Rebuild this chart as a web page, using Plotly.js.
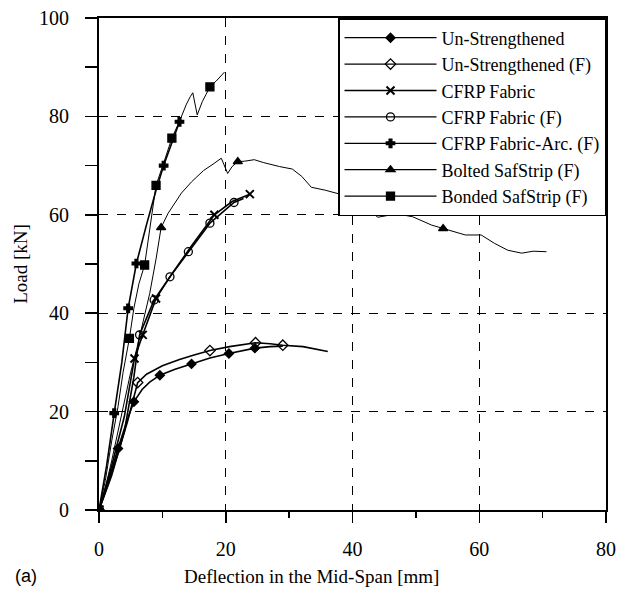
<!DOCTYPE html>
<html><head><meta charset="utf-8">
<script src="https://cdn.plot.ly/plotly-3.0.1.min.js"></script>
<style>body{margin:0;background:#fff}#chart{width:617px;height:594px}</style>
</head><body><div id="chart"></div>
<script>
// Series names (legend order)
const names = ["Un-Strengthened", "Un-Strengthened (F)", "CFRP Fabric", "CFRP Fabric (F)",
  "CFRP Fabric-Arc. (F)", "Bolted SafStrip (F)", "Bonded SafStrip (F)"];

// Un-Strengthened
const unX = [0,1.5,3,4.5,5.5,6.8,8,9.6,12,14.6,17.5,20.5,22.5,24.6,27,29];
const unY = [0,6,12.5,18.5,22,24.5,26,27.4,28.6,29.7,30.9,31.8,32.3,32.9,33.2,33.3];
const unMX = [0,3,5.5,9.6,14.6,20.5,24.6];
const unMY = [0,12.5,22,27.4,29.7,31.8,32.9];

// Un-Strengthened (F)
const unfX = [0,1.5,3,4.5,6.1,7.5,10,12.7,15,17.5,20.6,22.5,24.7,27,29,32.2,35.4,36.1];
const unfY = [0,5.5,11.5,18,25.9,27.6,29.3,30.6,31.5,32.4,33.2,33.6,34,33.8,33.5,33.2,32.5,32.2];
const unfMX = [0,6.1,17.5,24.7,29];
const unfMY = [0,25.9,32.4,34,33.5];

// CFRP Fabric
const cfX = [0,2,4,5.6,6.9,9,11.5,14.5,18.2,21,23.8];
const cfY = [0,9,19,30.8,35.6,43,48,53.5,60,62.7,64.2];
const cfMX = [0,5.6,6.9,9,18.2,23.8];
const cfMY = [0,30.8,35.6,43,60,64.2];

// CFRP Fabric (F)
const cffX = [0,2,4,5.5,6.4,8.7,11.2,14.1,17.5,21.3,22.8];
const cffY = [0,7,16,27,35.6,42.7,47.4,52.5,58.3,62.5,63.3];
const cffMX = [0,6.4,8.7,11.2,14.1,17.5,21.3];
const cffMY = [0,35.6,42.7,47.4,52.5,58.3,62.5];

// CFRP Fabric-Arc. (F)
const arcX = [0,1.2,2.4,3.6,4.6,5.9,7.5,9,10.2,11.5,12.7];
const arcY = [0,9,19.7,30,41,50.1,58,65,70,74.8,78.9];
const arcMX = [0,2.4,4.6,5.9,10.2,12.7];
const arcMY = [0,19.7,41,50.1,70,78.9];

// Bolted SafStrip (F)
const boltX = [0,1,2,3,4,5,6,7,8,9,9.8,10.9,13,14.6,16.5,18,19.3,20.3,21,21.9,23,24.5,26,28.5,30.5,32,33.5,35.7,38,41,44,47,49.5,52.5,54.3,56,57.8,60.3,62.4,64.5,66.7,68.5,70.6];
const boltY = [0,4.5,10,16,22,28,33,38.5,44,51,57.4,60.3,64.4,66.7,69,70.3,71.5,68.4,69.8,70.8,70.9,71.2,70.6,69.8,69.3,67.8,65.6,65,64.2,62.5,59.5,60.2,59.6,57.9,57.2,56.5,55.9,55.9,54.2,52.8,52.2,52.6,52.5];
const boltMX = [0,9.8,21.9,54.3];
const boltMY = [0,57.4,70.8,57.2];

// Bonded SafStrip (F)
const bondX = [0,1,2,3,3.8,4.8,5.5,6.3,7.2,8,9,10.2,11.5,12.7,13.8,14.4,14.8,15.5,16.3,17.5,18.5,19.8];
const bondY = [0,6,14,21,28,34.9,41,46,49.8,57,66,70.5,75.6,79,82.5,84,84.8,80.3,83,86,87.2,89];
const bondMX = [0,4.8,7.2,9,11.5,17.5];
const bondMY = [0,34.9,49.8,66,75.6,86];

// Axis ticks
const xTicks = [0,20,40,60,80];
const yTicks = [0,20,40,60,80,100];

const series = [
  {x:unX, y:unY, mx:unMX, my:unMY, sym:'diamond', size:7, lw:1.6},
  {x:unfX, y:unfY, mx:unfMX, my:unfMY, sym:'diamond-open', size:8, lw:1.6},
  {x:cfX, y:cfY, mx:cfMX, my:cfMY, sym:'x-thin', size:8, lw:1.6},
  {x:cffX, y:cffY, mx:cffMX, my:cffMY, sym:'circle-open', size:8, lw:1.6},
  {x:arcX, y:arcY, mx:arcMX, my:arcMY, sym:'cross', size:7, lw:1.6},
  {x:boltX, y:boltY, mx:boltMX, my:boltMY, sym:'triangle-up', size:8, lw:1},
  {x:bondX, y:bondY, mx:bondMX, my:bondMY, sym:'square', size:8, lw:1}
];

const traces = [];
series.forEach((s, i) => {
  const mk = {symbol: s.sym, size: s.size, color: '#000', line: {color: '#000', width: s.sym === 'x-thin' ? 2 : 1.3}};
  traces.push({x: s.x, y: s.y, mode: 'lines', line: {color: '#000', width: s.lw},
    legendgroup: 'g' + i, showlegend: false, hoverinfo: 'skip'});
  traces.push({x: s.mx, y: s.my, mode: 'markers', marker: mk,
    legendgroup: 'g' + i, showlegend: false});
  traces.push({x: [null], y: [null], mode: 'lines+markers', name: names[i],
    line: {color: '#000', width: 1.3}, marker: mk, legendgroup: 'g' + i, showlegend: true});
});

const serif = 'Liberation Serif, Times New Roman, serif';
const layout = {
  width: 617, height: 594,
  margin: {l: 99, r: 11, t: 18, b: 84},
  paper_bgcolor: '#fff', plot_bgcolor: '#fff',
  font: {family: serif, color: '#000', size: 20},
  showlegend: true,
  legend: {x: 1, xanchor: 'right', y: 1, yanchor: 'top', bgcolor: '#fff',
    bordercolor: '#000', borderwidth: 1.5, font: {family: serif, size: 18, color: '#000'},
    itemwidth: 92, traceorder: 'normal'},
  xaxis: {range: [0, 80], tickvals: xTicks, ticks: 'outside', ticklen: 11, tickwidth: 1.5, tickcolor: '#000',
    minor: {dtick: 10, tick0: 0, ticks: 'outside', ticklen: 6, tickwidth: 1.5, tickcolor: '#000', showgrid: false},
    showline: true, linewidth: 2, linecolor: '#000', mirror: true, zeroline: false,
    showgrid: true, gridcolor: '#000', gridwidth: 1.3, griddash: 'dash',
    ticklabelstandoff: 9, tickfont: {family: serif, size: 20}},
  yaxis: {range: [0, 100], tickvals: yTicks, ticks: 'outside', ticklen: 12, tickwidth: 1.5, tickcolor: '#000',
    minor: {dtick: 10, tick0: 0, ticks: 'outside', ticklen: 12, tickwidth: 1.5, tickcolor: '#000', showgrid: false},
    showline: true, linewidth: 2, linecolor: '#000', mirror: true, zeroline: false,
    showgrid: true, gridcolor: '#000', gridwidth: 1.3, griddash: 'dash',
    ticklabelstandoff: 12, tickfont: {family: serif, size: 20},
    title: {text: 'Load [kN]', font: {family: serif, size: 19}, standoff: 6}},
  annotations: [
    {text: 'Deflection in the Mid-Span [mm]', xref: 'paper', yref: 'paper', x: 0.419, y: -0.136,
      xanchor: 'center', yanchor: 'middle', showarrow: false, font: {family: serif, size: 19}},
    {text: '(a)', xref: 'paper', yref: 'paper', x: -0.143, y: -0.134,
      xanchor: 'center', yanchor: 'middle', showarrow: false, font: {family: 'Liberation Sans, Arial, sans-serif', size: 18}}
  ]
};

Plotly.newPlot('chart', traces, layout, {displayModeBar: false, staticPlot: true});
</script>
</body></html>
